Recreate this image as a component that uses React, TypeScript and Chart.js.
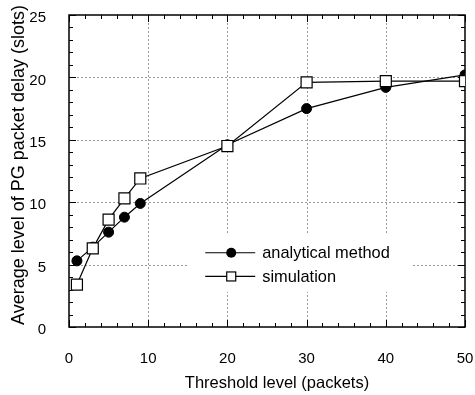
import React, { useEffect, useRef } from "react";
import { Chart, registerables } from "chart.js";

Chart.register(...registerables);

const thresholds = [1, 3, 5, 7, 9, 20, 30, 40, 50];
const analytical = [5.3, 6.4, 7.6, 8.8, 9.9, 14.6, 17.5, 19.2, 20.2];
const simulation = [3.4, 6.3, 8.6, 10.3, 11.9, 14.5, 19.6, 19.7, 19.7];
const seriesNames = ["analytical method", "simulation"];
const xTitle = "Threshold level (packets)";
const yTitle = "Average level of PG packet delay (slots)";

const FONT = "'Liberation Sans', Arial, Helvetica, sans-serif";

const framePlugin = {
  id: "frame",
  beforeDatasetsDraw(chart: any) {
    const { ctx, chartArea: a, scales } = chart;
    const xs = scales.x;
    const ys = scales.y;
    ctx.save();
    // dotted grid
    ctx.strokeStyle = "#9a9a9a";
    ctx.lineWidth = 1;
    ctx.setLineDash([2, 2]);
    for (let v = 10; v < 50; v += 10) {
      const px = Math.round(xs.getPixelForValue(v)) + 0.5;
      ctx.beginPath();
      ctx.moveTo(px, a.top);
      ctx.lineTo(px, a.bottom);
      ctx.stroke();
    }
    for (let v = 5; v < 25; v += 5) {
      const py = Math.round(ys.getPixelForValue(v)) + 0.5;
      ctx.beginPath();
      ctx.moveTo(a.left, py);
      ctx.lineTo(a.right, py);
      ctx.stroke();
    }
    ctx.setLineDash([]);
    // inward ticks
    ctx.strokeStyle = "#000";
    ctx.lineWidth = 1;
    for (let v = 0; v <= 50; v += 2) {
      const px = Math.round(xs.getPixelForValue(v)) + 0.5;
      const len = v % 10 === 0 ? 7 : 4;
      ctx.beginPath();
      ctx.moveTo(px, a.bottom);
      ctx.lineTo(px, a.bottom - len);
      ctx.moveTo(px, a.top);
      ctx.lineTo(px, a.top + len);
      ctx.stroke();
    }
    for (let v = 0; v <= 25; v += 1) {
      const py = Math.round(ys.getPixelForValue(v)) + 0.5;
      const len = v % 5 === 0 ? 7 : 4;
      ctx.beginPath();
      ctx.moveTo(a.left, py);
      ctx.lineTo(a.left + len, py);
      ctx.moveTo(a.right, py);
      ctx.lineTo(a.right - len, py);
      ctx.stroke();
    }
    // frame
    ctx.lineWidth = 1.5;
    ctx.strokeRect(a.left, a.top, a.right - a.left, a.bottom - a.top);
    // legend backdrop
    ctx.fillStyle = "#fff";
    const bx0 = xs.getPixelForValue(15.0);
    const bx1 = xs.getPixelForValue(43.3);
    const by0 = ys.getPixelForValue(7.4);
    const by1 = ys.getPixelForValue(2.8);
    ctx.fillRect(bx0, by0, bx1 - bx0, by1 - by0);
    ctx.restore();
  },
  afterDatasetsDraw(chart: any) {
    const { ctx, scales, chartArea: a } = chart;
    const xs = scales.x;
    const ys = scales.y;
    const x0 = xs.getPixelForValue(17.2);
    const x1 = x0 + 50;
    const xm = x0 + 26;
    const rows = [ys.getPixelForValue(5.95), ys.getPixelForValue(4.05)];
    ctx.save();
    ctx.strokeStyle = "#000";
    ctx.lineWidth = 1.2;
    rows.forEach((y, i) => {
      ctx.beginPath();
      ctx.moveTo(x0, y);
      ctx.lineTo(x1, y);
      ctx.stroke();
      if (i === 0) {
        ctx.fillStyle = "#000";
        ctx.beginPath();
        ctx.arc(xm, y, 5, 0, Math.PI * 2);
        ctx.fill();
      } else {
        ctx.fillStyle = "#fff";
        ctx.fillRect(xm - 4.5, y - 4.5, 9, 9);
        ctx.strokeRect(xm - 4.5, y - 4.5, 9, 9);
      }
      ctx.fillStyle = "#000";
      ctx.font = `16.4px ${FONT}`;
      ctx.textBaseline = "middle";
      ctx.textAlign = "left";
      ctx.fillText(seriesNames[i], x1 + 7, y + 1);
    });
    // axis titles
    ctx.fillStyle = "#000";
    ctx.textAlign = "center";
    ctx.textBaseline = "middle";
    ctx.font = `16.5px ${FONT}`;
    ctx.fillText(xTitle, (a.left + a.right) / 2 + 10, a.bottom + 56);
    ctx.save();
    ctx.translate(19, (a.top + a.bottom) / 2 - 6);
    ctx.rotate(-Math.PI / 2);
    ctx.font = `18px ${FONT}`;
    ctx.fillText(yTitle, 0, 0);
    ctx.restore();
    ctx.restore();
  },
};

export default function App() {
  const ref = useRef<HTMLCanvasElement | null>(null);
  useEffect(() => {
    if (!ref.current) return;
    const chart = new Chart(ref.current, {
      type: "line",
      data: {
        datasets: [
          {
            label: seriesNames[0],
            data: thresholds.map((x, i) => ({ x, y: analytical[i] })),
            borderColor: "#000",
            backgroundColor: "#000",
            borderWidth: 1.2,
            pointStyle: "circle",
            pointRadius: 5,
            pointBorderWidth: 1,
            pointBackgroundColor: "#000",
            pointBorderColor: "#000",
            tension: 0,
            order: 2,
          },
          {
            label: seriesNames[1],
            data: thresholds.map((x, i) => ({ x, y: simulation[i] })),
            borderColor: "#000",
            backgroundColor: "#fff",
            borderWidth: 1.2,
            pointStyle: "rect",
            pointRadius: 7.8,
            pointBorderWidth: 1.2,
            pointBackgroundColor: "#fff",
            pointBorderColor: "#000",
            tension: 0,
            order: 1,
          },
        ],
      },
      options: {
        animation: false,
        responsive: true,
        maintainAspectRatio: false,
        layout: { padding: { left: 0, top: 15, right: 10, bottom: 0 } },
        plugins: { legend: { display: false }, tooltip: { enabled: false } },
        scales: {
          x: {
            type: "linear",
            min: 0,
            max: 50,
            grid: { display: false },
            border: { display: false },
            ticks: { stepSize: 10, color: "#000", font: { family: FONT, size: 15 }, padding: 15, maxRotation: 0 },
            afterFit: (s: any) => {
              s.height = 68;
              s.paddingLeft = 0;
              s.paddingRight = 0;
            },
          },
          y: {
            type: "linear",
            min: 0,
            max: 25,
            grid: { display: false },
            border: { display: false },
            ticks: { stepSize: 5, color: "#000", font: { family: FONT, size: 15 }, padding: 15, labelOffset: 3 },
            afterFit: (s: any) => {
              s.width = 69;
              s.paddingTop = 0;
              s.paddingBottom = 0;
            },
          },
        },
      },
      plugins: [framePlugin],
    });
    return () => chart.destroy();
  }, []);
  return (
    <div style={{ position: "fixed", left: 0, top: 0, width: 475, height: 395, background: "#fff" }}>
      <canvas ref={ref} />
    </div>
  );
}
